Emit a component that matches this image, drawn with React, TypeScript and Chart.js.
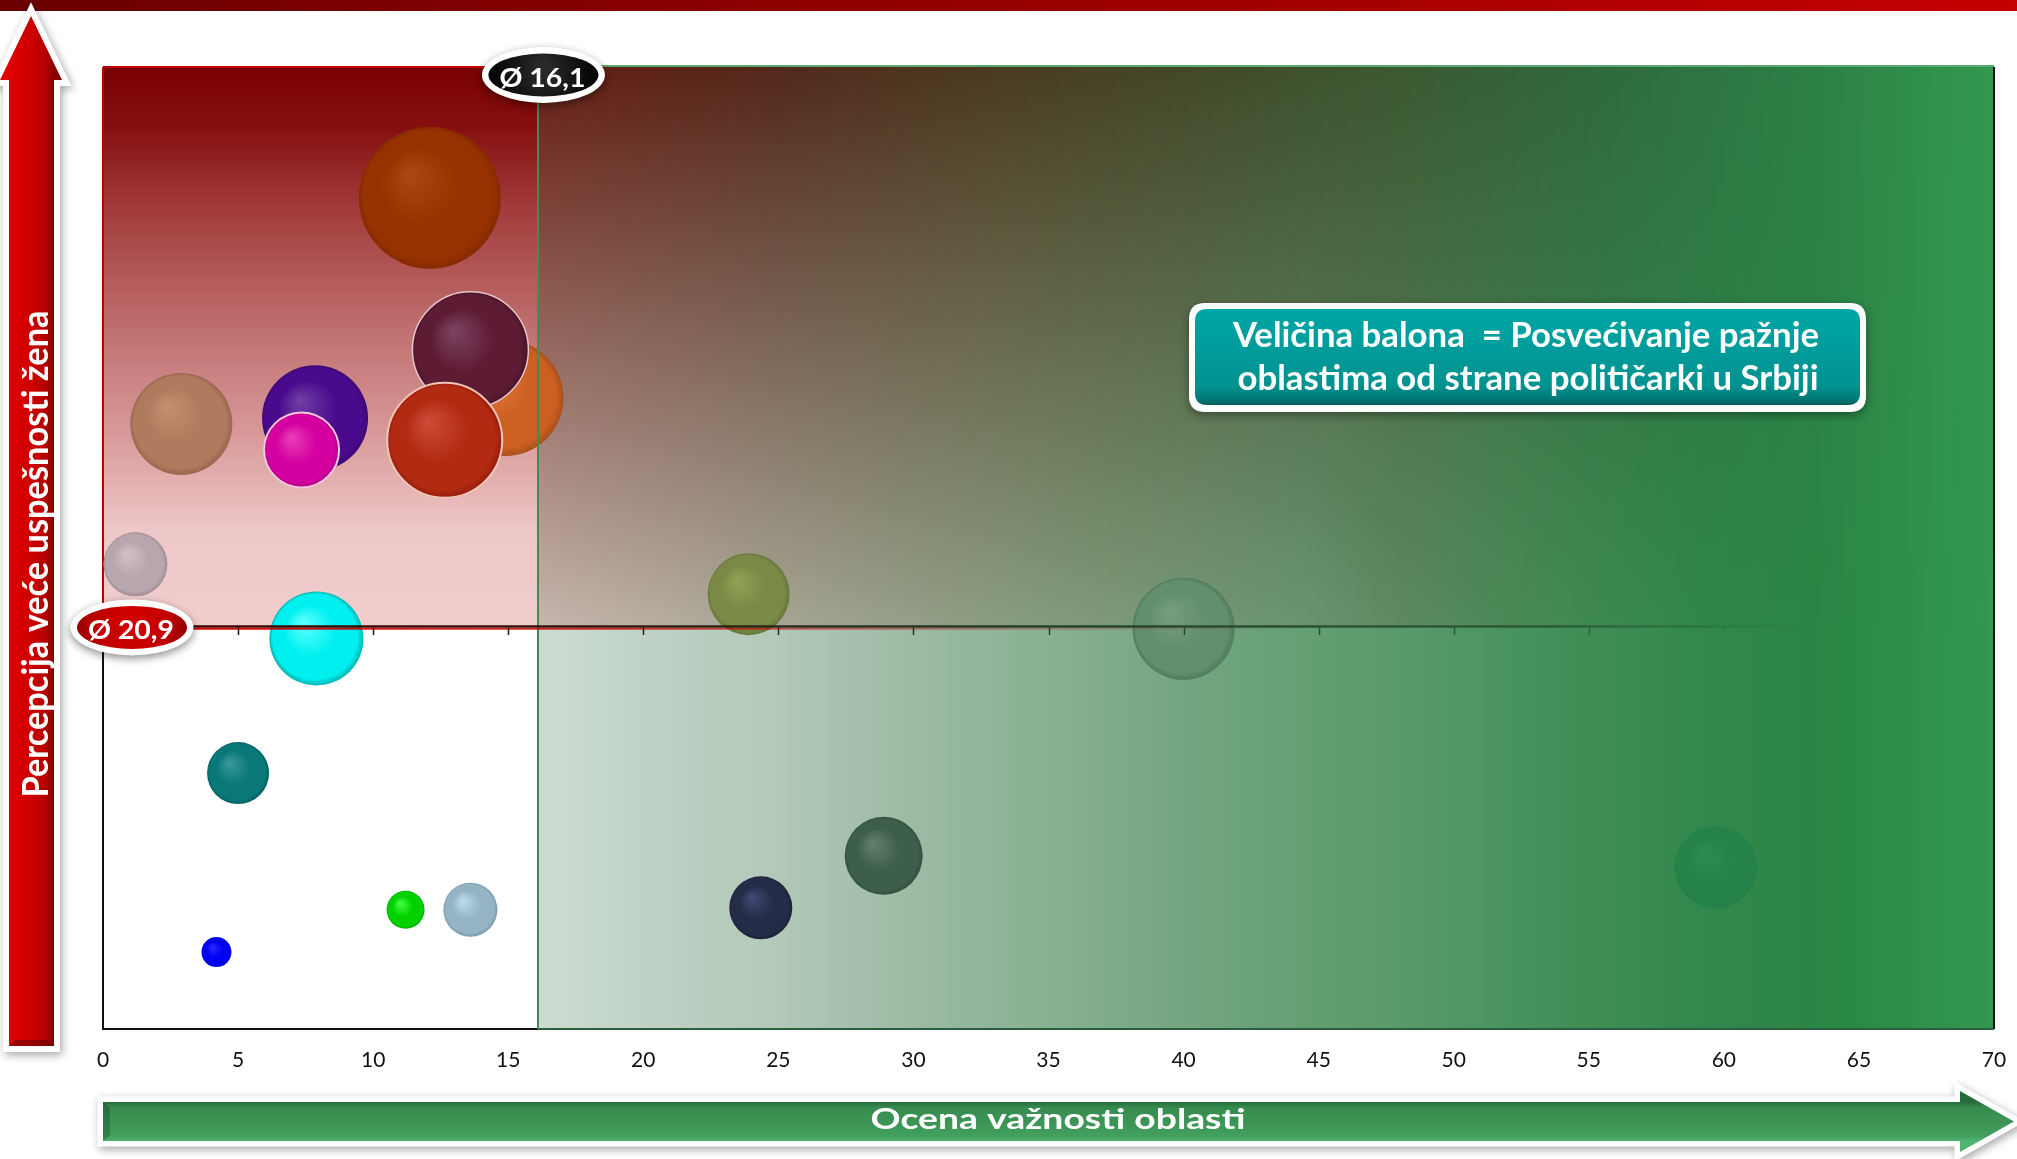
import React, { useEffect, useRef } from "react";
import { Chart, registerables } from "chart.js";

Chart.register(...registerables);

// ---------------- data ----------------
const X_MIN = 0;
const X_MAX = 70;
const X_STEP = 5;
const Y_MIN = 0;
const Y_MAX = 50;

const avgImportance = 16.1;
const avgPerception = 20.9;
const avgImportanceLabel = "Ø 16,1";
const avgPerceptionLabel = "Ø 20,9";

const xAxisTitle = "Ocena važnosti oblasti";
const yAxisTitle = "Percepcija veće uspešnosti žena";
const legendLine1 = "Veličina balona  = Posvećivanje pažnje";
const legendLine2 = "oblastima od strane političarki u Srbiji";

// importance score (x), perception of women's greater success (y), attention (bubble radius)
const importance = [12.1, 14.9, 13.6, 12.65, 2.9, 7.85, 7.35, 1.2, 7.9, 5.0, 11.2, 13.6, 4.2, 23.9, 40.0, 24.35, 28.9, 59.7];
const perception = [43.2, 32.8, 35.3, 30.6, 31.45, 31.75, 30.1, 24.15, 20.3, 13.3, 6.2, 6.2, 4.0, 22.6, 20.8, 6.3, 9.0, 8.4];
const attention = [71, 58, 58, 57.5, 51, 53, 37.5, 32, 47, 31, 19, 27, 15, 41, 51, 31.5, 39, 41];

// ---------------- styles ----------------
const bubbleLight = ["#ad4814", "#e27c3c", "#7c4460", "#cc4e38", "#c68e70", "#7040a4", "#ea40b8", "#d2c2c8", "#60ffff", "#3c9898", "#48ff48", "#bcdcea", "#2a2aff", "#92a256", "#769e80", "#404a74", "#62826e", "#2e8c52"];
const bubbleBase = ["#973200", "#cc5f22", "#5e1c34", "#b22a12", "#b07a5e", "#4a0a8e", "#d400a0", "#b8a6ae", "#00f0f0", "#0a7878", "#00d000", "#94b4c4", "#0000f0", "#7a8a46", "#62906e", "#252c48", "#3e5e4c", "#26844a"];
const bubbleEdge = ["#862a00", "#a8501e", "#4a1428", "#961e0c", "#9a6650", "#3c0876", "#b0008a", "#a08c96", "#00b4b4", "#006060", "#00b000", "#7c98a6", "#0000d0", "#66763c", "#4e7c5c", "#1c2238", "#34503f", "#24804a"];
const bubbleBorder = ["rgba(0,0,0,0)", "rgba(0,0,0,0)", "#e8c4cc", "#f2c6b6", "rgba(0,0,0,0)", "rgba(0,0,0,0)", "#f6c8dc", "rgba(0,0,0,0)", "rgba(0,0,0,0)", "rgba(0,0,0,0)", "rgba(0,0,0,0)", "rgba(0,0,0,0)", "rgba(0,0,0,0)", "rgba(0,0,0,0)", "rgba(0,0,0,0)", "rgba(0,0,0,0)", "rgba(0,0,0,0)", "rgba(0,0,0,0)"];
const bubbleBorderWidth = [0, 0, 1.5, 2, 0, 0, 2, 0, 0, 0, 0, 0, 0, 0, 0, 0, 0, 0];

const topLeftStops: [number, string][] = [[0, "#780000"], [0.11, "#861010"], [0.24, "#a03838"], [0.47, "#c07070"], [0.65, "#d89898"], [0.83, "#eec8c8"], [1, "#f2cdcd"]];
const topRightTopStops: [number, string][] = [[16.1, "#661c12"], [25, "#52281a"], [33, "#4a3a20"], [40.4, "#424828"], [48.6, "#3a5a32"], [55.7, "#2f6a3c"], [62.7, "#2c7e45"], [70, "#32984f"]];
const topRightBottomStops: [number, string][] = [[16.1, "#c6b6ae"], [23.5, "#aca898"], [29.5, "#96a088"], [37, "#7e9a78"], [44.4, "#6a9470"], [48, "#5e8a60"], [51.7, "#4c8a58"], [55.4, "#3c8850"], [59.1, "#30864a"], [63.3, "#2a8646"], [66, "#2c8c4a"], [70, "#33994f"]];
const bottomRightStops: [number, string][] = [[16.1, "#cddcd2"], [20, "#c0d2c6"], [25, "#b2c8b8"], [30, "#9cbaa4"], [35, "#88b092"], [40, "#74a680"], [45, "#629e70"], [48, "#5a9a6a"], [51.7, "#4a9460"], [55.4, "#3e8c54"], [59.1, "#32884c"], [63.3, "#2a8646"], [66, "#2c8c4a"], [70, "#33994f"]];

const FONT = "Lato, 'Open Sans', sans-serif";

function hexToRgb(h: string): number[] {
  const n = parseInt(h.slice(1), 16);
  return [(n >> 16) & 255, (n >> 8) & 255, n & 255];
}
function interp(stops: [number, string][], v: number): string {
  if (v <= stops[0][0]) return stops[0][1];
  for (let i = 1; i < stops.length; i++) {
    if (v <= stops[i][0]) {
      const [a, ca] = stops[i - 1];
      const [b, cb] = stops[i];
      const t = (v - a) / (b - a);
      const A = hexToRgb(ca), B = hexToRgb(cb);
      const c = A.map((x, k) => Math.round(x + (B[k] - x) * t));
      return `rgb(${c[0]},${c[1]},${c[2]})`;
    }
  }
  return stops[stops.length - 1][1];
}

function fitText(ctx: CanvasRenderingContext2D, text: string, cx: number, by: number, targetW: number, size: number, color = "#fff", weight = "bold") {
  ctx.save();
  ctx.font = `${weight} ${size}px ${FONT}`;
  const w = ctx.measureText(text).width;
  const sx = targetW / w;
  ctx.translate(cx, by);
  ctx.scale(sx, 1);
  ctx.textAlign = "center";
  ctx.textBaseline = "alphabetic";
  ctx.fillStyle = color;
  ctx.fillText(text, 0, 0);
  ctx.restore();
}

function roundRect(ctx: CanvasRenderingContext2D, x: number, y: number, w: number, h: number, r: number) {
  ctx.beginPath();
  ctx.moveTo(x + r, y);
  ctx.lineTo(x + w - r, y);
  ctx.quadraticCurveTo(x + w, y, x + w, y + r);
  ctx.lineTo(x + w, y + h - r);
  ctx.quadraticCurveTo(x + w, y + h, x + w - r, y + h);
  ctx.lineTo(x + r, y + h);
  ctx.quadraticCurveTo(x, y + h, x, y + h - r);
  ctx.lineTo(x, y + r);
  ctx.quadraticCurveTo(x, y, x + r, y);
  ctx.closePath();
}

function drawBadge(ctx: CanvasRenderingContext2D, cx: number, cy: number, text: string, dark: boolean) {
  ctx.save();
  ctx.shadowColor = "rgba(0,0,0,0.45)";
  ctx.shadowBlur = 9;
  ctx.shadowOffsetY = 3;
  ctx.beginPath();
  ctx.ellipse(cx, cy, 61.5, 28, 0, 0, Math.PI * 2);
  ctx.fillStyle = "#ffffff";
  ctx.fill();
  ctx.restore();
  ctx.save();
  const g = ctx.createRadialGradient(cx, cy - 8, 4, cx, cy, 58);
  if (dark) {
    g.addColorStop(0, "#2a2a2a");
    g.addColorStop(0.6, "#101010");
    g.addColorStop(1, "#000000");
  } else {
    g.addColorStop(0, "#d20000");
    g.addColorStop(0.6, "#c00000");
    g.addColorStop(1, "#8c0000");
  }
  ctx.beginPath();
  ctx.ellipse(cx, cy, 55, 21.5, 0, 0, Math.PI * 2);
  ctx.fillStyle = g;
  ctx.fill();
  ctx.restore();
  fitText(ctx, text, cx - 1, cy + 12, 86, 27);
}

const decorPlugin = {
  id: "decor",
  beforeDraw(chart: any) {
    const ctx: CanvasRenderingContext2D = chart.ctx;
    const W = chart.width;
    ctx.save();
    // top bar
    const tb = ctx.createLinearGradient(0, 0, W, 0);
    tb.addColorStop(0, "#6a0000");
    tb.addColorStop(1, "#c40000");
    ctx.fillStyle = tb;
    ctx.fillRect(0, 0, W, 11);

    // vertical (y) arrow
    const upPath = () => {
      ctx.beginPath();
      ctx.moveTo(31, 16);
      ctx.lineTo(62, 80);
      ctx.lineTo(54, 80);
      ctx.lineTo(54, 1046);
      ctx.lineTo(9, 1046);
      ctx.lineTo(9, 80);
      ctx.lineTo(0, 80);
      ctx.closePath();
    };
    ctx.save();
    ctx.shadowColor = "rgba(0,0,0,0.35)";
    ctx.shadowBlur = 8;
    ctx.shadowOffsetX = 2;
    ctx.shadowOffsetY = 3;
    upPath();
    ctx.lineJoin = "miter";
    ctx.lineWidth = 12;
    ctx.strokeStyle = "#ffffff";
    ctx.stroke();
    ctx.restore();
    upPath();
    const rg = ctx.createLinearGradient(9, 0, 54, 0);
    rg.addColorStop(0, "#e00000");
    rg.addColorStop(0.5, "#cc0000");
    rg.addColorStop(0.82, "#b40000");
    rg.addColorStop(1, "#860000");
    ctx.fillStyle = rg;
    ctx.fill();
    // bottom bevel
    ctx.fillStyle = "rgba(90,0,0,0.5)";
    ctx.beginPath();
    ctx.moveTo(9, 1046);
    ctx.lineTo(54, 1046);
    ctx.lineTo(48, 1040);
    ctx.lineTo(15, 1040);
    ctx.closePath();
    ctx.fill();

    // y title
    ctx.save();
    ctx.translate(48, 554);
    ctx.rotate(-Math.PI / 2);
    fitText(ctx, yAxisTitle, 0, 0, 487, 37);
    ctx.restore();

    // horizontal (x) arrow
    const rightPath = () => {
      ctx.beginPath();
      ctx.moveTo(103, 1102);
      ctx.lineTo(1960, 1102);
      ctx.lineTo(1960, 1091);
      ctx.lineTo(2014, 1121.5);
      ctx.lineTo(1960, 1152);
      ctx.lineTo(1960, 1141);
      ctx.lineTo(103, 1141);
      ctx.closePath();
    };
    ctx.save();
    ctx.shadowColor = "rgba(0,0,0,0.35)";
    ctx.shadowBlur = 8;
    ctx.shadowOffsetX = 2;
    ctx.shadowOffsetY = 3;
    rightPath();
    ctx.lineJoin = "miter";
    ctx.lineWidth = 11;
    ctx.strokeStyle = "#ffffff";
    ctx.stroke();
    ctx.restore();
    rightPath();
    const gg = ctx.createLinearGradient(0, 1102, 0, 1141);
    gg.addColorStop(0, "#276a3c");
    gg.addColorStop(0.14, "#368c4e");
    gg.addColorStop(0.5, "#3b9455");
    gg.addColorStop(0.88, "#42a05e");
    gg.addColorStop(1, "#4fb46e");
    ctx.fillStyle = gg;
    ctx.fill();
    // left bevel
    ctx.fillStyle = "rgba(20,70,35,0.35)";
    ctx.beginPath();
    ctx.moveTo(103, 1102);
    ctx.lineTo(110, 1108);
    ctx.lineTo(110, 1135);
    ctx.lineTo(103, 1141);
    ctx.closePath();
    ctx.fill();

    fitText(ctx, xAxisTitle, 1058, 1129, 375, 29);
    ctx.restore();
  },
  beforeDatasetsDraw(chart: any) {
    const ctx: CanvasRenderingContext2D = chart.ctx;
    const ca = chart.chartArea;
    const xs = chart.scales.x;
    const ys = chart.scales.y;
    const xm = Math.round(xs.getPixelForValue(avgImportance));
    const ym = Math.round(ys.getPixelForValue(avgPerception));
    ctx.save();
    // top-left quadrant
    const tl = ctx.createLinearGradient(0, ca.top, 0, ym);
    topLeftStops.forEach(([p, c]) => tl.addColorStop(p, c));
    ctx.fillStyle = tl;
    ctx.fillRect(ca.left, ca.top, xm - ca.left, ym - ca.top);
    // bottom-left
    ctx.fillStyle = "#ffffff";
    ctx.fillRect(ca.left, ym, xm - ca.left, ca.bottom - ym);
    // bottom-right
    const br = ctx.createLinearGradient(xm, 0, ca.right, 0);
    bottomRightStops.forEach(([v, c]) => {
      const p = (xs.getPixelForValue(v) - xm) / (ca.right - xm);
      br.addColorStop(Math.min(1, Math.max(0, p)), c);
    });
    ctx.fillStyle = br;
    ctx.fillRect(xm, ym - 1, ca.right - xm, ca.bottom - ym + 1);
    // top-right (bilinear)
    for (let px = xm; px < ca.right; px++) {
      const v = xs.getValueForPixel(px + 0.5);
      const g = ctx.createLinearGradient(0, ca.top, 0, ym);
      g.addColorStop(0, interp(topRightTopStops, v));
      g.addColorStop(1, interp(topRightBottomStops, v));
      ctx.fillStyle = g;
      ctx.fillRect(px, ca.top, 1, ym - ca.top);
    }
    // borders
    ctx.lineWidth = 2;
    ctx.strokeStyle = "#c00000";
    ctx.beginPath();
    ctx.moveTo(ca.left, ca.top);
    ctx.lineTo(xm, ca.top);
    ctx.moveTo(ca.left, ca.top);
    ctx.lineTo(ca.left, ym);
    ctx.stroke();
    ctx.strokeStyle = "#5aa870";
    ctx.beginPath();
    ctx.moveTo(xm, ca.top - 1);
    ctx.lineTo(ca.right, ca.top - 1);
    ctx.stroke();
    ctx.strokeStyle = "#111111";
    ctx.beginPath();
    ctx.moveTo(ca.left, ym);
    ctx.lineTo(ca.left, ca.bottom);
    ctx.lineTo(xm, ca.bottom);
    ctx.moveTo(ca.right, ca.top);
    ctx.lineTo(ca.right, ca.bottom);
    ctx.stroke();
    ctx.strokeStyle = "#2a5e3c";
    ctx.beginPath();
    ctx.moveTo(xm, ca.bottom);
    ctx.lineTo(ca.right, ca.bottom);
    ctx.stroke();
    ctx.restore();
  },
  afterDatasetsDraw(chart: any) {
    const ctx: CanvasRenderingContext2D = chart.ctx;
    const ca = chart.chartArea;
    const xs = chart.scales.x;
    const ys = chart.scales.y;
    const xm = Math.round(xs.getPixelForValue(avgImportance));
    const ym = Math.round(ys.getPixelForValue(avgPerception));
    const xEnd = xs.getPixelForValue(63);
    ctx.save();
    // vertical average line
    ctx.strokeStyle = "#3e8e50";
    ctx.lineWidth = 2;
    ctx.beginPath();
    ctx.moveTo(xm, ca.top);
    ctx.lineTo(xm, ca.bottom);
    ctx.stroke();
    // horizontal average line
    const hl = ctx.createLinearGradient(ca.left, 0, xEnd, 0);
    hl.addColorStop(0, "#400000");
    hl.addColorStop(0.3, "#2c1a10");
    hl.addColorStop(0.55, "#24402a");
    hl.addColorStop(0.85, "rgba(36,80,44,0.8)");
    hl.addColorStop(1, "rgba(36,90,50,0)");
    ctx.strokeStyle = hl;
    ctx.lineWidth = 2.5;
    ctx.beginPath();
    ctx.moveTo(ca.left, ym - 0.5);
    ctx.lineTo(xEnd, ym - 0.5);
    ctx.stroke();
    const rl = ctx.createLinearGradient(ca.left, 0, xEnd, 0);
    rl.addColorStop(0, "#d40000");
    rl.addColorStop(0.3, "rgba(200,0,0,0.8)");
    rl.addColorStop(0.55, "rgba(170,30,20,0.3)");
    rl.addColorStop(0.7, "rgba(170,30,20,0)");
    ctx.strokeStyle = rl;
    ctx.lineWidth = 2;
    ctx.beginPath();
    ctx.moveTo(ca.left, ym + 1.8);
    ctx.lineTo(xEnd, ym + 1.8);
    ctx.stroke();
    // ticks on the average line
    ctx.strokeStyle = hl;
    ctx.lineWidth = 1.5;
    ctx.beginPath();
    xs.ticks.forEach((t: any) => {
      if (t.value <= X_MIN || t.value >= X_MAX) return;
      const px = Math.round(xs.getPixelForValue(t.value)) + 0.5;
      ctx.moveTo(px, ym);
      ctx.lineTo(px, ym + 8);
    });
    ctx.stroke();
    ctx.restore();
  },
  afterDraw(chart: any) {
    const ctx: CanvasRenderingContext2D = chart.ctx;
    const xs = chart.scales.x;
    const ys = chart.scales.y;
    const xm = xs.getPixelForValue(avgImportance);
    const ym = ys.getPixelForValue(avgPerception);
    const ca = chart.chartArea;
    drawBadge(ctx, xm + 5.5, ca.top + 8, avgImportanceLabel, true);
    drawBadge(ctx, ca.left + 29, ym + 0.6, avgPerceptionLabel, false);

    // legend box
    ctx.save();
    ctx.shadowColor = "rgba(0,0,0,0.4)";
    ctx.shadowBlur = 10;
    ctx.shadowOffsetY = 3;
    roundRect(ctx, 1189, 303, 677, 109, 16);
    ctx.fillStyle = "#ffffff";
    ctx.fill();
    ctx.restore();
    ctx.save();
    const tg = ctx.createLinearGradient(0, 309, 0, 405);
    tg.addColorStop(0, "#00a6a6");
    tg.addColorStop(0.8, "#009290");
    tg.addColorStop(0.93, "#007a78");
    tg.addColorStop(1, "#005e5c");
    roundRect(ctx, 1195, 309, 665, 96, 12);
    ctx.fillStyle = tg;
    ctx.fill();
    ctx.restore();
    fitText(ctx, legendLine1, 1526, 347, 586, 35);
    fitText(ctx, legendLine2, 1528, 390, 581, 35);
  },
};

export default function App() {
  const ref = useRef<HTMLCanvasElement>(null);
  useEffect(() => {
    document.body.style.margin = "0";
    const canvas = ref.current;
    if (!canvas) return;
    const points = importance.map((x, i) => ({ x, y: perception[i], r: attention[i] }));
    const chart = new Chart(canvas, {
      type: "bubble",
      data: {
        datasets: [
          {
            label: "Oblasti",
            data: points,
            clip: 0,
            backgroundColor: (c: any) => {
              const i = c.dataIndex;
              if (i === undefined || i === null) return bubbleBase[0];
              const ch = c.chart;
              const xs = ch.scales && ch.scales.x;
              const ys = ch.scales && ch.scales.y;
              if (!xs || !ys || !ch.chartArea) return bubbleBase[i];
              const cx = xs.getPixelForValue(importance[i]);
              const cy = ys.getPixelForValue(perception[i]);
              const r = attention[i];
              const g = ch.ctx.createRadialGradient(cx - 0.3 * r, cy - 0.35 * r, 0, cx, cy, r);
              g.addColorStop(0, bubbleLight[i]);
              g.addColorStop(0.55, bubbleBase[i]);
              g.addColorStop(0.9, bubbleBase[i]);
              g.addColorStop(1, bubbleEdge[i]);
              return g;
            },
            borderColor: (c: any) => bubbleBorder[c.dataIndex ?? 0],
            borderWidth: (c: any) => bubbleBorderWidth[c.dataIndex ?? 0],
          } as any,
        ],
      },
      options: {
        responsive: false,
        animation: false,
        events: [],
        layout: { autoPadding: false, padding: { left: 103, top: 67, right: 23, bottom: 0 } },
        plugins: {
          legend: { display: false },
          tooltip: { enabled: false },
          title: { display: false },
        },
        scales: {
          x: {
            type: "linear",
            min: X_MIN,
            max: X_MAX,
            ticks: {
              stepSize: X_STEP,
              autoSkip: false,
              maxRotation: 0,
              padding: 19,
              color: "#111111",
              font: { family: FONT, size: 21 },
            },
            grid: { display: false, drawTicks: false },
            border: { display: false },
            afterFit: (s: any) => {
              s.height = 130;
              s.paddingLeft = 0;
              s.paddingRight = 0;
            },
          },
          y: { display: false, min: Y_MIN, max: Y_MAX },
        },
      },
      plugins: [decorPlugin],
    } as any);
    return () => chart.destroy();
  }, []);
  return <canvas ref={ref} width={2017} height={1159} style={{ display: "block", width: 2017, height: 1159 }} />;
}
